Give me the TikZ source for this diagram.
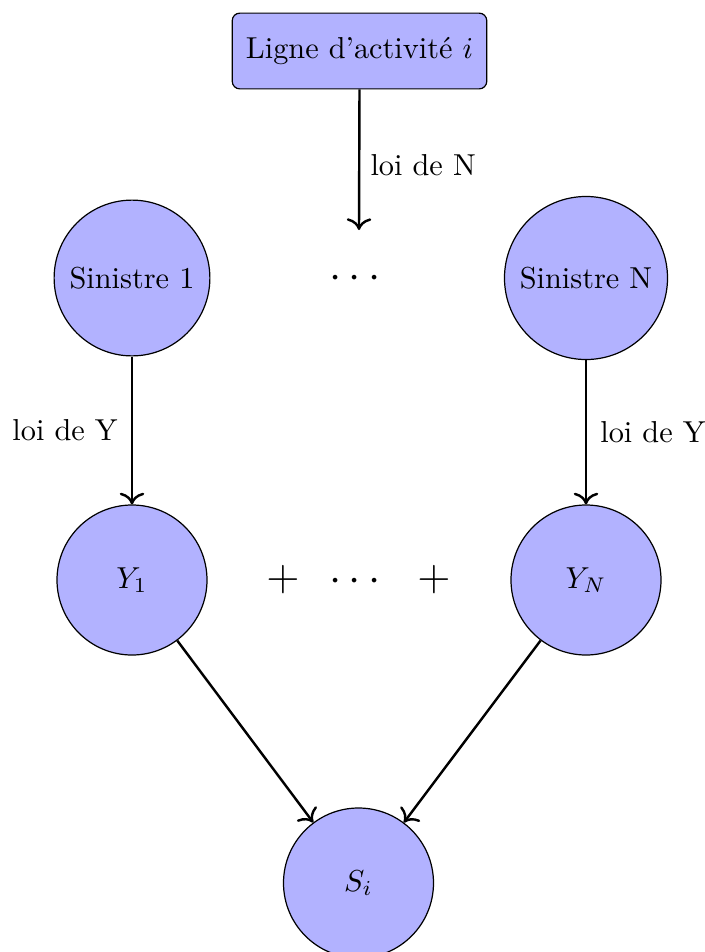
\documentclass[tikz,border=0pt]{standalone}
\usetikzlibrary{arrows.meta}
\begin{document}
\begin{tikzpicture}[x=0.33pt,y=-0.33pt,
  circ/.style={circle,draw,fill=blue!30,minimum size=49.5pt,inner sep=4pt},
  topbox/.style={rectangle,draw,fill=blue!30,rounded corners=2.5pt,minimum width=84pt,minimum height=25pt},
  conn/.style={-{To[scale=1.15]},thick},
  big/.style={font=\Large}]
\useasboundingbox (0,0) rectangle (705,952);
\node[topbox] (box) at (359.5,51) {Ligne d'activité $i$};
\coordinate (nend) at (359,230);
\node[circ] (s1) at (132,278) {Sinistre 1};
\node[circ] (sN) at (586,278) {Sinistre N};
\node[big] (dtop) at (355,279) {$\cdots$};
\node[circ] (y1) at (132,580) {$Y_1$};
\node[circ] (yN) at (586,580) {$Y_N$};
\node[big] (p1) at (283,580) {$+$};
\node[big] (dmid) at (355,582) {$\cdots$};
\node[big] (p2) at (434,580) {$+$};
\node[circ] (si) at (358.5,883) {$S_i$};
\draw[conn] (box.south) -- node[right,pos=0.54] {loi de N} (nend);
\draw[conn] (s1) -- node[left,xshift=-1pt] {loi de Y} (y1);
\draw[conn] (sN) -- node[right,xshift=1pt] {loi de Y} (yN);
\draw[conn] (y1) -- (si);
\draw[conn] (yN) -- (si);
\end{tikzpicture}
\end{document}
